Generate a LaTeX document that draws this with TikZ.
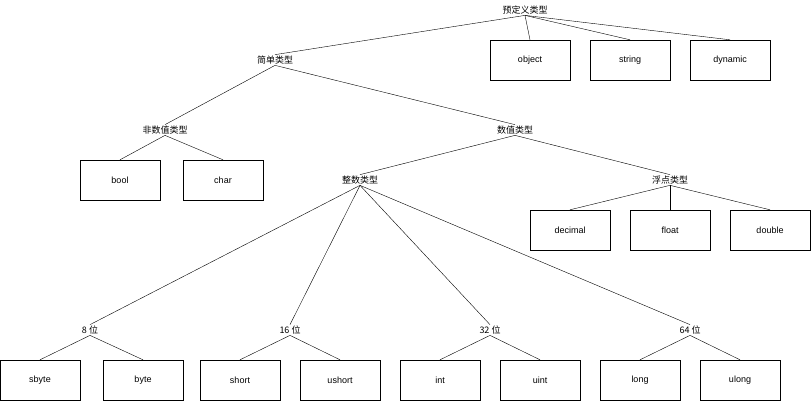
\documentclass[tikz,border=0pt]{standalone}
\usepackage{fontspec}
\setmainfont{Liberation Sans}
\newfontfamily\cjk{Noto Sans CJK SC}
\usepackage{tikz}

\begin{document}
\begin{tikzpicture}[x=1pt, y=-1pt, font=\fontsize{9}{10}\selectfont]
        \tikzset{
            leaf/.style={draw, minimum width=80pt, minimum height=40pt, inner sep=0pt},
            cat/.style={inner sep=1pt, font=\cjk\fontsize{9}{10}\selectfont},
        }
        \useasboundingbox (0, 0) rectangle (811, 401);

        % labels
        \node[cat] (predef) at (525, 10) {预定义类型};
        \node[cat] (simple) at (275, 60) {简单类型};
        \node[cat] (nonnum) at (165, 130) {非数值类型};
        \node[cat] (num) at (515, 130) {数值类型};
        \node[cat] (integ) at (360, 180) {整数类型};
        \node[cat] (flt) at (670, 180) {浮点类型};
        \node[cat] (b8) at (90, 330) {8 位};
        \node[cat] (b16) at (290, 330) {16 位};
        \node[cat] (b32) at (490, 330) {32 位};
        \node[cat] (b64) at (690, 330) {64 位};

        % boxes
        \node[leaf] (object) at (530, 60) {object};
        \node[leaf] (string) at (630, 60) {string};
        \node[leaf] (dynamic) at (730, 60) {dynamic};
        \node[leaf] (bool) at (120, 180) {bool};
        \node[leaf] (char) at (223, 180) {char};
        \node[leaf] (decimal) at (570, 230) {decimal};
        \node[leaf] (float) at (670, 230) {float};
        \node[leaf] (double) at (770, 230) {double};
        \node[leaf] (sbyte) at (40, 380) {sbyte};
        \node[leaf] (byte) at (143, 380) {byte};
        \node[leaf] (short) at (240, 380) {short};
        \node[leaf] (ushort) at (340, 380) {ushort};
        \node[leaf] (int) at (440, 380) {int};
        \node[leaf] (uint) at (540, 380) {uint};
        \node[leaf] (long) at (640, 380) {long};
        \node[leaf] (ulong) at (740, 380) {ulong};

        % connectors
        \foreach \p/\c in {predef/simple, predef/object, predef/string, predef/dynamic,
            simple/nonnum, simple/num, nonnum/bool, nonnum/char,
            num/integ, num/flt, flt/decimal, flt/float, flt/double,
            integ/b8, integ/b16, integ/b32, integ/b64,
            b8/sbyte, b8/byte, b16/short, b16/ushort,
            b32/int, b32/uint, b64/long, b64/ulong}
            \draw (\p.south) -- (\c.north);

    \end{tikzpicture}
\end{document}
